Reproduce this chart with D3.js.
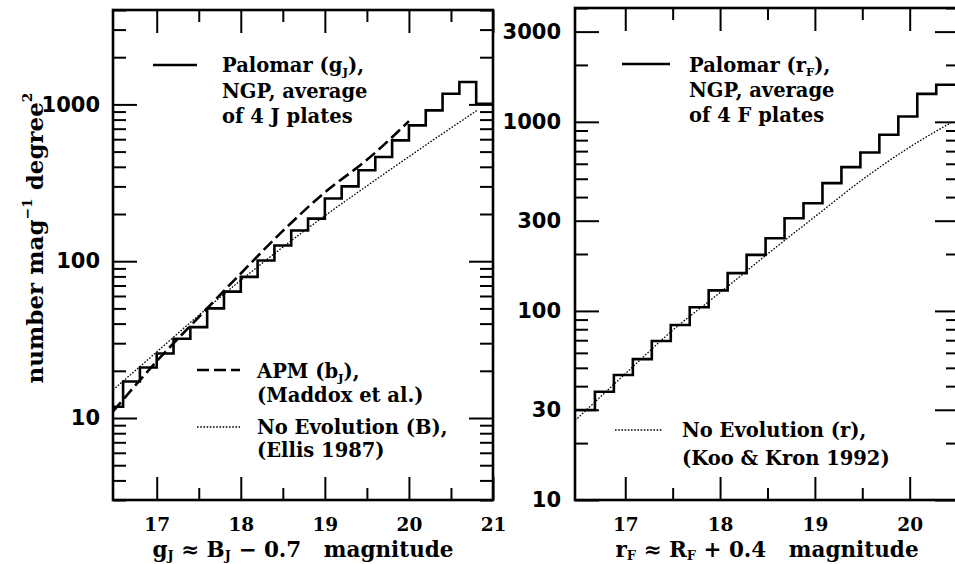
<!DOCTYPE html>
<html><head><meta charset="utf-8">
<script src="https://cdn.jsdelivr.net/npm/d3@7"></script>
<style>
body{margin:0;background:#fff}
svg{display:block}
text{white-space:pre}
</style></head><body>
<svg id="c" width="955" height="564"></svg>
<script>
// ---------- data ----------
const gBinCenters = [16.5,16.7,16.9,17.1,17.3,17.5,17.7,17.9,18.1,18.3,18.5,18.7,18.9,19.1,19.3,19.5,19.7,19.9,20.1,20.3,20.5,20.7,20.9];
const gCounts     = [11.8,17.1,21,25.8,32,38,50,64,79.5,101,126,157,187,251,300,380,462,590,735,916,1170,1390,1010];
const apmMag = [16.48,17,17.5,18,18.5,19,19.5,20.0];
const apmVal = [11,23,44,83.5,156,275,443,782];
const noEvoBMag = [16.48,17,17.5,18,18.5,19,19.5,20,20.5,20.81];
const noEvoBVal = [15.1,26.4,45.2,75.5,123,195,302,464,708,916];

const rBinCenters = [16.58,16.78,16.98,17.18,17.38,17.58,17.78,17.98,18.18,18.38,18.58,18.78,18.98,19.18,19.38,19.58,19.78,19.98,20.18,20.38];
const rCounts     = [29.9,37.4,45.8,55.6,69.3,84.3,104.5,128.5,158.5,198,242.5,309,371,474,576,689,854,1067,1406,1570];
const noEvoRMag = [16.47,17,17.5,18,18.5,19,19.5,20,20.46];
const noEvoRVal = [26.3,46.5,79,125,200,315,494,735,1005];

const gYTickLabels = [10,100,1000];
const rYTickLabels = [10,30,100,300,1000,3000];
const gXTickLabels = [17,18,19,20,21];
const rXTickLabels = [17,18,19,20];

const binWidth = 0.2;
// ---------- drawing ----------
const svg = d3.select('#c');
const SERIF = '"DejaVu Serif", serif';
const SANS = '"DejaVu Sans", sans-serif';

function rich(sel, x, y, parts, size, opts={}) {
  const t = sel.append('text').attr('x',x).attr('y',y)
    .attr('font-family',SERIF).attr('font-weight','bold').attr('font-size',size)
    .attr('text-anchor',opts.anchor||'start');
  if (opts.transform) t.attr('transform',opts.transform);
  const subShift = opts.sub!=null ? opts.sub : 0.2;
  let shift=0;
  parts.forEach(p=>{
    const s=p[0], k=p[1]||'n';
    const target = k==='sub'? size*subShift : k==='sup' ? -size*0.5 : 0;
    t.append('tspan').attr('dy', target-shift).attr('font-size', k==='n'?size:size*0.6).text(s);
    shift=target;
  });
  return t;
}

function panel(cfg){
  const g = svg.append('g');
  const x = d3.scaleLinear().domain(cfg.xDomain).range(cfg.xRange);
  const y = d3.scaleLog().domain(cfg.yDomain).range(cfg.yRange);
  const [x0,x1]=cfg.xRange, [y0,y1]=cfg.yRange; // y0 bottom
  const clipId = 'clip'+cfg.id;
  svg.append('clipPath').attr('id',clipId).append('rect')
    .attr('x',x0).attr('y',y1).attr('width',x1-x0).attr('height',y0-y1);

  const xMaj = cfg.xTicks;
  const xMin = d3.range(17.5, cfg.xDomain[1], 1);
  const yAll = y.ticks();
  const yMaj = cfg.yTicks;
  const yMin = yAll.filter(v=>!yMaj.some(m=>Math.abs(m-v)<1e-9));

  const styleAxis = a => { a.select('.domain').remove(); a.selectAll('line').attr('stroke','#000').attr('stroke-width',2); };

  // bottom
  const ab = g.append('g').attr('transform',`translate(0,${y0})`)
    .call(d3.axisBottom(x).tickValues(xMaj).tickSize(-23).tickPadding(18).tickFormat(d3.format('d')));
  styleAxis(ab);
  ab.selectAll('text').attr('font-family',SERIF).attr('font-weight','bold').attr('font-size',18.5).attr('fill','#000');
  styleAxis(g.append('g').attr('transform',`translate(0,${y0})`).call(d3.axisBottom(x).tickValues(xMin).tickSize(-12).tickFormat('')));
  // top
  styleAxis(g.append('g').attr('transform',`translate(0,${y1})`).call(d3.axisTop(x).tickValues(xMaj).tickSize(-23).tickFormat('')));
  styleAxis(g.append('g').attr('transform',`translate(0,${y1})`).call(d3.axisTop(x).tickValues(xMin).tickSize(-12).tickFormat('')));
  // left
  const al = g.append('g').attr('transform',`translate(${x0},0)`)
    .call(d3.axisLeft(y).tickValues(yMaj).tickSize(-24).tickPadding(cfg.labelPad).tickFormat(d3.format('d')));
  styleAxis(al);
  al.selectAll('text').attr('font-family',SANS).attr('font-weight','bold').attr('font-size',21).attr('fill','#000');
  styleAxis(g.append('g').attr('transform',`translate(${x0},0)`).call(d3.axisLeft(y).tickValues(yMin).tickSize(-13).tickFormat('')));
  // right
  styleAxis(g.append('g').attr('transform',`translate(${x1},0)`).call(d3.axisRight(y).tickValues(yMaj).tickSize(-24).tickFormat('')));
  styleAxis(g.append('g').attr('transform',`translate(${x1},0)`).call(d3.axisRight(y).tickValues(yMin).tickSize(-13).tickFormat('')));

  // frame
  g.append('rect').attr('x',x0).attr('y',y1).attr('width',x1-x0).attr('height',y0-y1)
    .attr('fill','none').attr('stroke','#000').attr('stroke-width',2.6);

  const plot = g.append('g').attr('clip-path',`url(#${clipId})`);
  // histogram
  const pts = cfg.bins.map((c,i)=>({m:Math.max(c-binWidth/2,cfg.xDomain[0]), v:cfg.counts[i]}));
  const last = cfg.bins.length-1;
  pts.push({m:Math.min(cfg.bins[last]+binWidth/2,cfg.xDomain[1]), v:cfg.counts[last]});
  plot.append('path').attr('d', d3.line().x(d=>x(d.m)).y(d=>y(d.v)).curve(d3.curveStepAfter)(pts))
    .attr('fill','none').attr('stroke','#000').attr('stroke-width',2.6);
  const curve = d3.line().x(d=>x(d[0])).y(d=>y(d[1])).curve(d3.curveMonotoneX);
  cfg.lines.forEach(L=>{
    plot.append('path').attr('d', curve(L.mag.map((m,i)=>[m,L.val[i]])))
      .attr('fill','none').attr('stroke','#000').attr('stroke-width',L.w).attr('stroke-dasharray',L.dash);
  });
  return {g,x,y};
}

const dashStyle = {w:2.6, dash:'12,5'};
const dotStyle = {w:1.3, dash:'1.6,1.6'};

const L = panel({id:'L', xDomain:[16.48,21], xRange:[113,493], yDomain:[3,4000], yRange:[500,10],
  xTicks:gXTickLabels, yTicks:gYTickLabels, labelPad:13, bins:gBinCenters, counts:gCounts,
  lines:[Object.assign({mag:apmMag,val:apmVal},dashStyle), Object.assign({mag:noEvoBMag,val:noEvoBVal},dotStyle)]});
const R = panel({id:'R', xDomain:[16.47,20.52], xRange:[575,959], yDomain:[10,4000], yRange:[500,8],
  xTicks:rXTickLabels, yTicks:rYTickLabels, labelPad:14, bins:rBinCenters, counts:rCounts,
  lines:[Object.assign({mag:noEvoRMag,val:noEvoRVal},dotStyle)]});

// legends
const FS = 19.5;
function legLine(x1,x2,y,st){
  svg.append('line').attr('x1',x1).attr('x2',x2).attr('y1',y).attr('y2',y)
    .attr('stroke','#000').attr('stroke-width',st.w).attr('stroke-dasharray',st.dash||null);
}
legLine(153,197,65,{w:2.4});
rich(svg,222,72,[['Palomar (g'],['J','sub'],['),']],FS);
rich(svg,222,98,[['NGP, average']],FS);
rich(svg,222,123,[['of 4 J plates']],FS);
legLine(197,240,370,dashStyle);
rich(svg,257,378,[['APM (b'],['J','sub'],['),']],FS);
rich(svg,257,402,[['(Maddox et al.)']],FS);
legLine(197,240,427,dotStyle);
rich(svg,257,434,[['No Evolution (B),']],FS);
rich(svg,257,457,[['(Ellis 1987)']],FS);

legLine(622,670,64,{w:2.4});
rich(svg,689,72,[['Palomar (r'],['F','sub'],['),']],FS);
rich(svg,689,97,[['NGP, average']],FS);
rich(svg,689,122,[['of 4 F plates']],FS);
legLine(615,663,430,dotStyle);
rich(svg,682,437,[['No Evolution (r),']],FS);
rich(svg,682,465,[['(Koo & Kron 1992)']],FS);

// axis titles
rich(svg,303,557,[['g'],['J','sub'],[' ≈ B'],['J','sub'],[' − 0.7   magnitude']],21.5,{anchor:'middle',sub:0.15});
rich(svg,767,557,[['r'],['F','sub'],[' ≈ R'],['F','sub'],[' + 0.4   magnitude']],21.5,{anchor:'middle',sub:0.15});
rich(svg,0,0,[['number mag'],['−1','sup'],[' degree'],['2','sup']],23,{anchor:'middle',transform:'translate(43,238) rotate(-90)'});
</script></body></html>
